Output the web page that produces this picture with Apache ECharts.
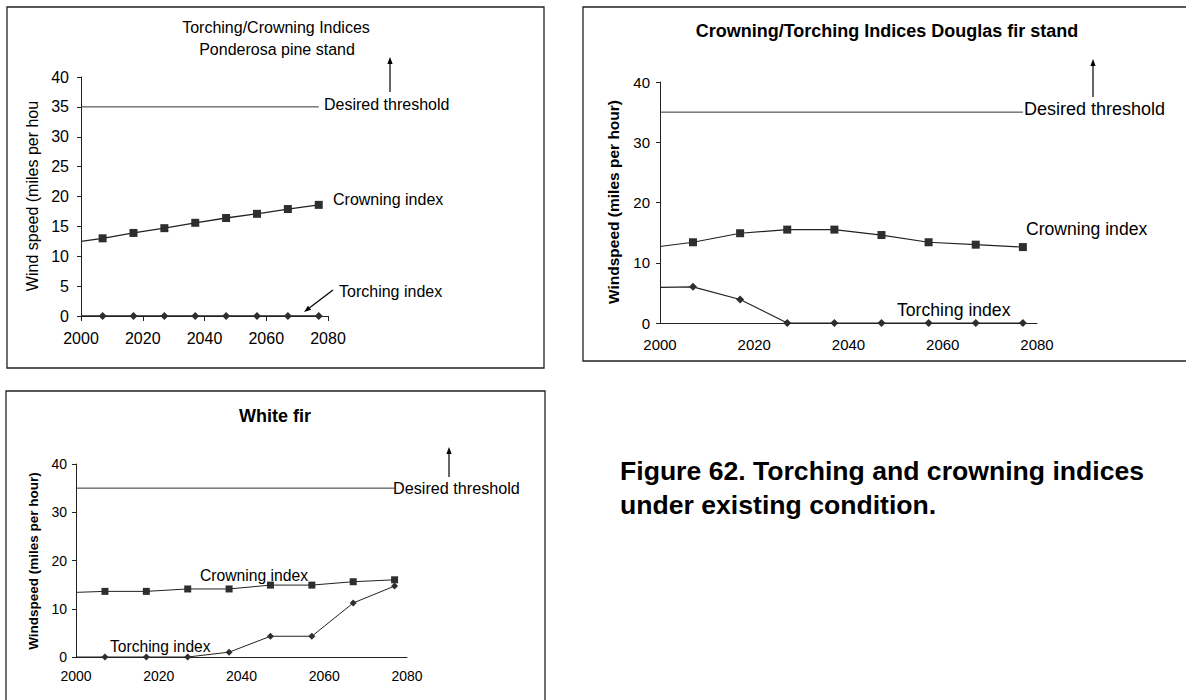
<!DOCTYPE html>
<html>
<head>
<meta charset="utf-8">
<title>Torching and crowning indices</title>
<script src="https://cdn.jsdelivr.net/npm/echarts@6/dist/echarts.min.js"></script>
<style>
html, body { margin: 0; padding: 0; background: #fff; }
#main { width: 1186px; height: 700px; }
</style>
</head>
<body>
<div id="main"></div>
<script>
// simulation years, the 2000 value only starts the line (no marker)
var years = [2000, 2007, 2017, 2027, 2037, 2047, 2057, 2067, 2077];
var thresholdYears = [2000, 2077];
var threshold = 35;

// Ponderosa pine stand
var ponderosaCrowning = [12.5, 13.0, 13.9, 14.7, 15.6, 16.4, 17.1, 17.9, 18.6];
var ponderosaTorching = [0, 0, 0, 0, 0, 0, 0, 0, 0];
// Douglas fir stand
var douglasCrowning = [12.7, 13.4, 14.9, 15.5, 15.5, 14.6, 13.4, 13.0, 12.6];
var douglasTorching = [5.9, 6.0, 3.9, 0, 0, 0, 0, 0, 0];
// White fir
var whiteCrowning = [13.4, 13.6, 13.6, 14.1, 14.1, 14.9, 14.9, 15.6, 16.0];
var whiteTorching = [0, 0, 0, 0, 1.0, 4.3, 4.3, 11.2, 14.7];

var FONT = '"Liberation Sans", Arial, sans-serif';
var INK = '#222';

function pts(vals) {
    return years.map(function (y, i) {
        if (i === 0) return { value: [y, vals[i]], symbol: 'none' };
        return [y, vals[i]];
    });
}

function lineSeries(name, idx, vals, symbol, size, width) {
    return {
        name: name, type: 'line', xAxisIndex: idx, yAxisIndex: idx,
        data: pts(vals),
        symbol: symbol, symbolSize: size,
        itemStyle: { color: '#2e2e2e' },
        lineStyle: { color: INK, width: width || 1 },
        silent: true
    };
}

function thresholdSeries(idx) {
    return {
        name: 'Desired threshold', type: 'line', xAxisIndex: idx, yAxisIndex: idx,
        data: thresholdYears.map(function (y) { return [y, threshold]; }),
        symbol: 'none', lineStyle: { color: '#333', width: 1 }, silent: true
    };
}

function xAx(idx, size, margin, ticks) {
    return {
        type: 'value', gridIndex: idx, min: 2000, max: 2080, interval: 20,
        axisLine: { lineStyle: { color: INK, width: 1 } },
        axisTick: { show: ticks, length: 5, lineStyle: { color: INK } },
        splitLine: { show: false },
        axisLabel: { color: '#000', fontSize: size, fontFamily: FONT, margin: margin,
            formatter: function (v) { return String(v); } }
    };
}

function yAx(idx, interval, size, margin) {
    return {
        type: 'value', gridIndex: idx, min: 0, max: 40, interval: interval,
        axisLine: { show: true, lineStyle: { color: INK, width: 1 } },
        axisTick: { show: true, length: 4, lineStyle: { color: INK } },
        splitLine: { show: false },
        axisLabel: { color: '#000', fontSize: size, fontFamily: FONT, margin: margin }
    };
}

function txt(s, x, y, size, bold, align, rot) {
    return {
        type: 'text', x: x, y: y, rotation: rot || 0, silent: true,
        style: {
            text: s, fill: '#000', align: align || 'left', verticalAlign: 'middle',
            font: (bold ? 'bold ' : '') + size + 'px ' + FONT
        }
    };
}

// thin arrow, head at (x2, y2)
function arrow(x1, y1, x2, y2) {
    var dx = x2 - x1, dy = y2 - y1, len = Math.sqrt(dx * dx + dy * dy);
    var ux = dx / len, uy = dy / len, hl = 7, hw = 2.6;
    var bx = x2 - ux * hl, by = y2 - uy * hl;
    return [
        { type: 'line', silent: true, shape: { x1: x1, y1: y1, x2: bx, y2: by },
          style: { stroke: '#000', lineWidth: 1.2 } },
        { type: 'polygon', silent: true,
          shape: { points: [[x2, y2], [bx - uy * hw, by + ux * hw], [bx + uy * hw, by - ux * hw]] },
          style: { fill: '#000' } }
    ];
}

function box(x, y, w, h) {
    return { type: 'rect', silent: true, shape: { x: x, y: y, width: w, height: h },
        style: { fill: 'none', stroke: '#222', lineWidth: 1.3 } };
}

var graphics = [
    box(7, 7, 537, 361),
    box(583, 7, 620, 354),
    box(6, 391, 539, 330),

    // Ponderosa pine
    txt('Torching/Crowning Indices', 276, 27, 16, false, 'center'),
    txt('Ponderosa pine stand', 277, 49, 16, false, 'center'),
    txt('Wind speed (miles per hou', 32, 196, 16, false, 'center', Math.PI / 2),
    txt('Desired threshold', 324, 104, 16),
    txt('Crowning index', 333, 199, 16),
    txt('Torching index', 339, 291, 16),

    // Douglas fir
    txt('Crowning/Torching Indices Douglas fir stand', 887, 31, 18, true, 'center'),
    txt('Windspeed (miles per hour)', 613, 202, 15.5, true, 'center', Math.PI / 2),
    txt('Desired threshold', 1024, 109, 18),
    txt('Crowning index', 1026, 229, 17.6),
    txt('Torching index', 897, 310, 17.6),

    // White fir
    txt('White fir', 275, 416, 18, true, 'center'),
    txt('Windspeed (miles per hour)', 33, 561, 13.5, true, 'center', Math.PI / 2),
    txt('Desired threshold', 393, 488, 16.2),
    txt('Crowning index', 200, 575, 15.7),
    txt('Torching index', 110, 646, 15.6),

    // caption
    txt('Figure 62. Torching and crowning indices', 620, 471, 26.6, true),
    txt('under existing condition.', 620, 505, 26.6, true)
]
.concat(arrow(390, 92, 390, 57))
.concat(arrow(333, 290, 304, 312))
.concat(arrow(1093, 97, 1093, 59))
.concat(arrow(449, 477, 449, 447));

var chart = echarts.init(document.getElementById('main'), null, { renderer: 'svg' });
chart.setOption({
    animation: false,
    backgroundColor: '#fff',
    textStyle: { fontFamily: FONT },
    grid: [
        { left: 81, top: 77, width: 247, height: 239 },
        { left: 660, top: 82, width: 377, height: 241 },
        { left: 76, top: 464, width: 331, height: 193 }
    ],
    xAxis: [
        xAx(0, 16, 14, true),
        xAx(1, 15, 14, false),
        xAx(2, 14, 12, false)
    ],
    yAxis: [
        yAx(0, 5, 16, 12),
        yAx(1, 10, 15, 10),
        yAx(2, 10, 14, 9)
    ],
    series: [
        thresholdSeries(0),
        lineSeries('Crowning index', 0, ponderosaCrowning, 'rect', 8, 1.3),
        lineSeries('Torching index', 0, ponderosaTorching, 'diamond', 8, 1.3),
        thresholdSeries(1),
        lineSeries('Crowning index', 1, douglasCrowning, 'rect', 8, 1.2),
        lineSeries('Torching index', 1, douglasTorching, 'diamond', 8, 1.2),
        thresholdSeries(2),
        lineSeries('Crowning index', 2, whiteCrowning, 'rect', 7, 1),
        lineSeries('Torching index', 2, whiteTorching, 'diamond', 7, 1)
    ],
    graphic: graphics
});
</script>
</body>
</html>
